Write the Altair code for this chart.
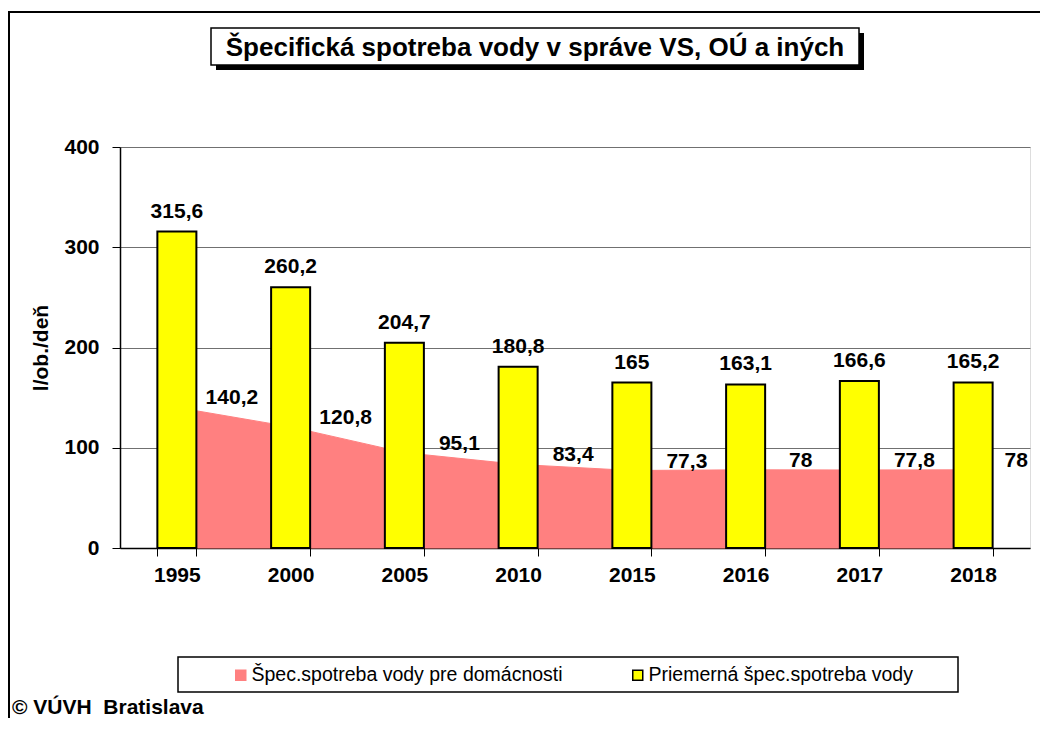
import altair as alt
import pandas as pd

years = ["1995", "2000", "2005", "2010", "2015", "2016", "2017", "2018"]
avg_use = [315.6, 260.2, 204.7, 180.8, 165.0, 163.1, 166.6, 165.2]
household_use = [140.2, 120.8, 95.1, 83.4, 77.3, 78.0, 77.8, 78.0]

series_household = "Špec.spotreba vody pre domácnosti"
series_avg = "Priemerná špec.spotreba vody"
title_text = "Špecifická spotreba vody v správe VS, OÚ a iných"
y_title = "l/ob./deň"
credit_text = "© VÚVH\u00a0\u00a0Bratislava"


def fmt(v):
    return f"{v:g}".replace(".", ",")


bars_df = pd.DataFrame({
    "year": years,
    "value": avg_use,
    "series": series_avg,
    "label": [fmt(v) for v in avg_use],
})
area_df = pd.DataFrame({
    "year": years,
    "value": household_use,
    "series": series_household,
    "label": [fmt(v) for v in household_use],
})

FONT = "Liberation Sans"
one = alt.Data(values=[{"k": 0}])

x_scale = alt.Scale(paddingInner=0.657, paddingOuter=0.3285)
y_scale = alt.Scale(domain=[0, 400])
color_scale = alt.Scale(domain=[series_household, series_avg], range=["#FF8080", "#FFFF00"])
stroke_scale = alt.Scale(domain=[series_household, series_avg], range=["#FF8080", "#000000"])

x_axis = alt.Axis(
    title=None, labelAngle=0, labelFont=FONT, labelFontSize=21, labelFontWeight="bold",
    labelColor="black", tickBand="extent", tickSize=8, tickColor="black", domainColor="black",
    domainWidth=1.5, labelPadding=8, grid=False,
)
y_axis = alt.Axis(
    title=y_title, values=[0, 100, 200, 300, 400], labelFont=FONT, labelFontSize=21,
    labelFontWeight="bold", labelColor="black", tickSize=8, tickColor="black",
    domainColor="black", domainWidth=1.5, labelPadding=13, grid=True, gridColor="#707070",
    gridWidth=1, titleFont=FONT, titleFontSize=21, titleFontWeight="bold",
    titleColor="black", titlePadding=12,
)

legend = alt.Legend(
    title=None, orient="none", legendX=111, legendY=518, direction="horizontal",
    columns=2, columnPadding=65, symbolType="square", symbolSize=100,
    symbolStrokeWidth=1.5, labelFont=FONT, labelFontSize=19.5, labelColor="black",
    padding=0, labelOffset=1, labelLimit=0,
)

X = alt.X("year:N", sort=None, scale=x_scale, axis=x_axis, bandPosition=0.5)
Xb = alt.X("year:N", sort=None, scale=x_scale, axis=x_axis)
Y = alt.Y("value:Q", scale=y_scale, axis=y_axis)

area = alt.Chart(area_df).mark_area(opacity=1, strokeWidth=1).encode(
    x=X, y=Y,
    color=alt.Color("series:N", scale=color_scale, legend=legend),
    stroke=alt.Stroke("series:N", scale=stroke_scale, legend=legend),
)

bars = alt.Chart(bars_df).mark_bar(strokeWidth=2).encode(
    x=Xb, y=Y,
    color=alt.Color("series:N", scale=color_scale, legend=legend),
    stroke=alt.Stroke("series:N", scale=stroke_scale, legend=legend),
)

bar_labels = alt.Chart(bars_df).mark_text(
    font=FONT, fontSize=21, fontWeight="bold", color="black", baseline="alphabetic", dy=-14
).encode(x=X, y=Y, text="label:N")

area_labels = alt.Chart(area_df).transform_filter(alt.datum.year != "2018").mark_text(
    font=FONT, fontSize=21, fontWeight="bold", color="black", baseline="alphabetic", dx=55, dy=-3
).encode(x=X, y=Y, text="label:N")

area_last_label = alt.Chart(area_df).transform_filter(alt.datum.year == "2018").mark_text(
    font=FONT, fontSize=21, fontWeight="bold", color="black", baseline="alphabetic", dx=43, dy=-3
).encode(x=X, y=Y, text="label:N")

# decorations
frame = alt.Chart(one).mark_rect(fill="transparent", stroke="black", strokeWidth=2).encode(
    x=alt.value(-111), x2=alt.value(1000), y=alt.value(-135), y2=alt.value(700)
)
title_shadow = alt.Chart(one).mark_rect(fill="black").encode(
    x=alt.value(96), x2=alt.value(744), y=alt.value(-114), y2=alt.value(-77)
)
title_box = alt.Chart(one).mark_rect(fill="white", stroke="black", strokeWidth=1.5).encode(
    x=alt.value(91), x2=alt.value(739), y=alt.value(-119), y2=alt.value(-82)
)
title_mark = alt.Chart(one).mark_text(
    font=FONT, fontSize=26, fontWeight="bold", color="black", align="center", baseline="alphabetic"
).encode(x=alt.value(415), y=alt.value(-91), text=alt.value(title_text))
legend_box = alt.Chart(one).mark_rect(fill="transparent", stroke="black", strokeWidth=1.5).encode(
    x=alt.value(58), x2=alt.value(838), y=alt.value(510), y2=alt.value(545)
)
credit = alt.Chart(one).mark_text(
    font=FONT, fontSize=21, fontWeight="bold", color="black", align="left", baseline="alphabetic"
).encode(x=alt.value(-108), y=alt.value(567), text=alt.value(credit_text))

chart = alt.layer(
    frame, title_shadow, title_box, title_mark, legend_box, credit,
    area, bars, bar_labels, area_labels, area_last_label,
).resolve_scale(color="shared", stroke="shared").properties(
    width=910, height=401,
    autosize=alt.AutoSizeParams(type="none"),
    padding={"left": 112, "top": 139, "right": 10, "bottom": 170},
).configure_view(stroke="#808080", strokeWidth=2).configure(background="white")

chart.save("out.html", embed_options={"renderer": "svg", "actions": False})
